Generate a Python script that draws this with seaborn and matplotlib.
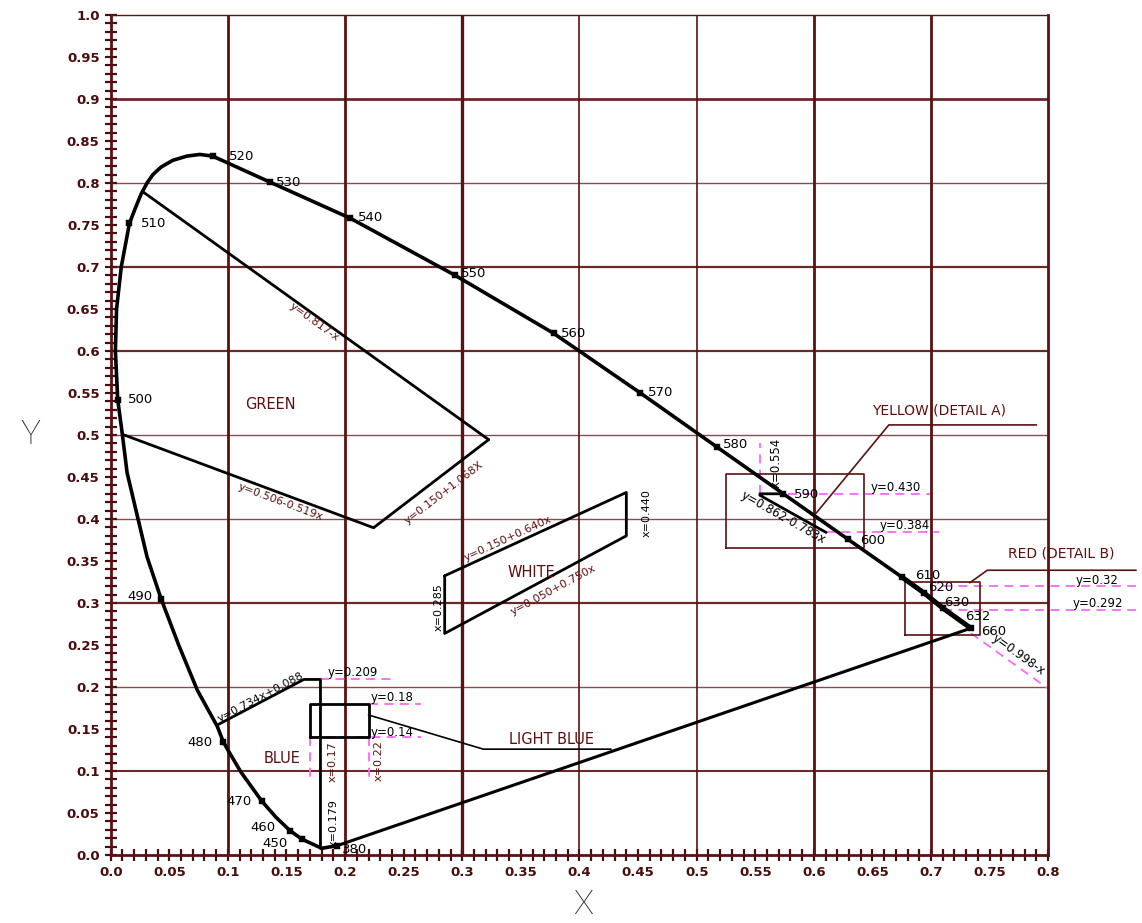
import numpy as np
import matplotlib
matplotlib.use("Agg")
import matplotlib.pyplot as plt
import seaborn as sns
from matplotlib.ticker import FixedLocator, MultipleLocator

# ---------------- data ----------------
# spectral locus, traced from 380 nm round the horseshoe to 660 nm
locus_x = [0.193, 0.180, 0.163, 0.153, 0.141, 0.129, 0.111, 0.100, 0.096, 0.091,
           0.074, 0.058, 0.043, 0.031, 0.023, 0.014, 0.010, 0.006, 0.004, 0.005,
           0.009, 0.016, 0.021, 0.026, 0.031, 0.036, 0.043, 0.053, 0.065, 0.076,
           0.087, 0.136, 0.2045, 0.294, 0.378, 0.452, 0.517, 0.574, 0.629, 0.675,
           0.694, 0.710, 0.734]
locus_y = [0.011, 0.008, 0.019, 0.029, 0.045, 0.064, 0.099, 0.125, 0.135, 0.153,
           0.196, 0.250, 0.305, 0.355, 0.402, 0.455, 0.500, 0.542, 0.600, 0.650,
           0.700, 0.752, 0.770, 0.787, 0.800, 0.810, 0.819, 0.827, 0.832, 0.834,
           0.832, 0.801, 0.758, 0.690, 0.621, 0.550, 0.486, 0.430, 0.376, 0.331,
           0.312, 0.294, 0.270]

# marked wavelengths (nm) on the locus
wl_names = ["380", "450", "460", "470", "480", "490", "500", "510", "520", "530",
            "540", "550", "560", "570", "580", "590", "600", "610", "620", "630", "660"]
wl_x = [0.193, 0.163, 0.153, 0.129, 0.096, 0.043, 0.006, 0.016, 0.087, 0.136,
        0.2045, 0.294, 0.378, 0.452, 0.517, 0.574, 0.629, 0.675, 0.694, 0.710, 0.734]
wl_y = [0.011, 0.019, 0.029, 0.064, 0.135, 0.305, 0.542, 0.752, 0.832, 0.801,
        0.758, 0.690, 0.621, 0.550, 0.486, 0.430, 0.376, 0.331, 0.312, 0.294, 0.270]

# boundary equations of the colour regions
green_upper = (0.817, -1.0)       # y = 0.817 - x
green_right = (0.150, 1.068)      # y = 0.150 + 1.068x
green_lower = (0.506, -0.519)     # y = 0.506 - 0.519x
green_locus_x = [0.028, 0.011]    # where the upper/lower boundaries meet the locus

white_top = (0.150, 0.640)        # y = 0.150 + 0.640x
white_bottom = (0.050, 0.750)     # y = 0.050 + 0.750x
white_x = [0.285, 0.440]

blue_edge = (0.088, 0.734)        # y = 0.734x + 0.088
blue_locus_x = 0.091
blue_top = 0.209
blue_right = 0.179
blue_bottom_y = 0.008

light_blue_x = [0.17, 0.22]
light_blue_y = [0.14, 0.18]

yellow_edge = (0.862, -0.783)     # y = 0.862 - 0.783x
yellow_x = 0.554
yellow_y = [0.430, 0.384]
yellow_locus_x = 0.574

red_y = [0.32, 0.292]
red_edge = (0.998, -1.0)          # y = 0.998 - x

# ---------------- style ----------------
sns.set_theme(style="white")
plt.rcParams["font.family"] = ["DejaVu Sans"]

BROWN = "#5a1212"
TICK = "#4a0c0c"
RED_TXT = "#5c0f0f"
MAGENTA = "#ff66ff"

fig = plt.figure(figsize=(11.42, 9.23), dpi=100)
ax = fig.add_axes([110.7 / 1142, 68 / 923, 937.5 / 1142, 840 / 923])
ax.set_xlim(0, 0.8)
ax.set_ylim(0, 1.0)


def line(xs, ys, color="black", lw=2.0, ls="-", z=3, clip=True):
    sns.lineplot(x=list(xs), y=list(ys), sort=False, estimator=None, ax=ax,
                 color=color, linewidth=lw, linestyle=ls, zorder=z, clip_on=clip)


def lin(eq, x):
    return eq[0] + eq[1] * x


# grid
vgrid = {0.1: 2.0, 0.2: 2.0, 0.3: 2.4, 0.4: 1.2, 0.5: 1.2, 0.6: 2.0, 0.7: 2.0}
hgrid = {0.1: 1.5, 0.2: 1.0, 0.3: 1.6, 0.4: 1.0, 0.5: 1.0, 0.6: 1.6, 0.7: 1.6,
         0.8: 1.0, 0.9: 2.0}
for gx, w in vgrid.items():
    ax.axvline(gx, color=BROWN, lw=w, zorder=1)
for gy, w in hgrid.items():
    ax.axhline(gy, color=BROWN, lw=w, zorder=1, alpha=0.9 if w > 1.2 else 0.75)

for side, w in (("left", 2.0), ("bottom", 2.0), ("right", 2.0), ("top", 1.0)):
    ax.spines[side].set_visible(True)
    ax.spines[side].set_color(BROWN)
    ax.spines[side].set_linewidth(w)

# ticks
x_ticks = np.round(np.arange(0, 0.801, 0.05), 2)
y_ticks = np.round(np.arange(0, 1.001, 0.05), 2)
x_tick_labels = ["0.0", "0.05", "0.1", "0.15", "0.2", "0.25", "0.3", "0.35", "0.4",
                 "0.45", "0.5", "0.55", "0.6", "0.65", "0.7", "0.75", "0.8"]
y_tick_labels = ["0.0", "0.05", "0.1", "0.15", "0.2", "0.25", "0.3", "0.35", "0.4",
                 "0.45", "0.5", "0.55", "0.6", "0.65", "0.7", "0.75", "0.8", "0.85",
                 "0.9", "0.95", "1.0"]
ax.xaxis.set_major_locator(FixedLocator(x_ticks))
ax.yaxis.set_major_locator(FixedLocator(y_ticks))
ax.set_xticklabels(x_tick_labels)
ax.set_yticklabels(y_tick_labels)
ax.xaxis.set_minor_locator(MultipleLocator(0.01))
ax.yaxis.set_minor_locator(MultipleLocator(0.01))
ax.tick_params(which="both", direction="inout", length=8, width=1.6, color=TICK,
               bottom=True, left=True, top=False, right=False)
ax.tick_params(which="major", labelsize=9.5, labelcolor=TICK, pad=4)
for t in ax.get_xticklabels() + ax.get_yticklabels():
    t.set_fontweight("bold")

ax.set_xlabel("X", fontsize=24, family=["Roboto", "DejaVu Sans"], fontweight="light",
              color="#222222", va="center")
ax.xaxis.set_label_coords(0.504, -0.06)
ax.set_ylabel("Y", fontsize=24, family=["Roboto", "DejaVu Sans"], fontweight="light",
              color="#222222", rotation=0, va="center", ha="center")
ax.yaxis.set_label_coords(-0.086, 0.5)

# ---------------- spectral locus ----------------
line(locus_x, locus_y, lw=2.6, z=5)
line([locus_x[0], locus_x[-1]], [locus_y[0], locus_y[-1]], lw=2.2, z=5)
line(locus_x[-4:], locus_y[-4:], lw=3.6, z=5)
sns.scatterplot(x=wl_x, y=wl_y, ax=ax, color="black", s=14, marker="s",
                edgecolor="black", zorder=6)

wl_offsets = {"380": (5, -4, "left"), "450": (-14, -4, "right"), "460": (-14, 3, "right"),
              "470": (-10, 0, "right"), "480": (-11, -1, "right"), "490": (-9, 2, "right"),
              "500": (10, 0, "left"), "510": (11, 0, "left"), "520": (16, 0, "left"),
              "530": (6, 0, "left"), "540": (8, 1, "left"), "550": (6, 2, "left"),
              "560": (7, 0, "left"), "570": (8, 0, "left"), "580": (6, 2, "left"),
              "590": (11, -1, "left"), "600": (12, -1, "left"), "610": (13, 1, "left"),
              "620": (4, 5, "left"), "630": (1, 6, "left"), "660": (10, -3, "left")}
for name, px, py in zip(wl_names, wl_x, wl_y):
    dx, dy, ha = wl_offsets[name]
    ax.annotate(name, (px, py), xytext=(dx, dy), textcoords="offset pixels",
                ha=ha, va="center", fontsize=9.5, color="black", zorder=7)
ax.annotate("632", (wl_x[-1], wl_y[-1]), xytext=(-6, 12), textcoords="offset pixels",
            ha="left", va="center", fontsize=9.5, color="black", zorder=7)


def eq_text(s, x, y, slope=None, rot=None, size=8, color=RED_TXT):
    if slope is not None:
        rot = np.degrees(np.arctan(slope))
        ax.text(x, y, s, rotation=rot, transform_rotates_text=True,
                rotation_mode="anchor", ha="center", va="center",
                fontsize=size, color=color, zorder=8)
    else:
        ax.text(x, y, s, rotation=rot or 0, ha="center", va="center",
                fontsize=size, color=color, zorder=8)


# ---------------- green ----------------
gx_apex = (green_upper[0] - green_right[0]) / (green_right[1] - green_upper[1])
gx_low = (green_lower[0] - green_right[0]) / (green_right[1] - green_lower[1])
line([green_locus_x[0], gx_apex], [lin(green_upper, green_locus_x[0]), lin(green_upper, gx_apex)])
line([gx_apex, gx_low], [lin(green_right, gx_apex), lin(green_right, gx_low)])
line([gx_low, green_locus_x[1]], [lin(green_lower, gx_low), lin(green_lower, green_locus_x[1])])
eq_text("y=0.817-x", 0.174, 0.634, slope=green_upper[1])
eq_text("y=0.506-0.519x", 0.145, 0.420, slope=green_lower[1])
eq_text("y=0.150+1.068X", 0.284, 0.431, slope=green_right[1])
ax.text(0.136, 0.536, "GREEN", ha="center", va="center", fontsize=10.5, color=RED_TXT)

# ---------------- white ----------------
wx0, wx1 = white_x
line([wx0, wx1, wx1, wx0, wx0],
     [lin(white_top, wx0), lin(white_top, wx1), lin(white_bottom, wx1),
      lin(white_bottom, wx0), lin(white_top, wx0)])
eq_text("y=0.150+0.640x", 0.339, 0.377, slope=white_top[1])
eq_text("y=0.050+0.750x", 0.378, 0.3155, slope=white_bottom[1])
eq_text("x=0.285", 0.2795, 0.295, rot=90, color="black")
eq_text("x=0.440", 0.457, 0.407, rot=90, color="black")
ax.text(0.359, 0.336, "WHITE", ha="center", va="center", fontsize=10.5, color=RED_TXT)

# ---------------- blue ----------------
bx_top = (blue_top - blue_edge[0]) / blue_edge[1]
line([blue_locus_x, bx_top, blue_right, blue_right],
     [lin(blue_edge, blue_locus_x), blue_top, blue_top, blue_bottom_y])
eq_text("y=0.734x+0.088", 0.128, 0.188, slope=blue_edge[1], color="black")
eq_text("x=0.179", 0.190, 0.038, rot=90, color="black", size=8)
ax.text(0.146, 0.115, "BLUE", ha="center", va="center", fontsize=10.5, color=RED_TXT)

# ---------------- light blue ----------------
lbx0, lbx1 = light_blue_x
lby0, lby1 = light_blue_y
dash = (0, (5, 3.5))
line([blue_right, 0.241], [blue_top, blue_top], color=MAGENTA, lw=1.3, ls=dash, z=2)
line([lbx1, 0.265], [lby1, lby1], color=MAGENTA, lw=1.3, ls=dash, z=2)
line([lbx0, 0.265], [lby0, lby0], color=MAGENTA, lw=1.3, ls=dash, z=2)
line([lbx0, lbx0], [lby0, 0.086], color=MAGENTA, lw=1.3, ls=dash, z=2)
line([lbx1, lbx1], [lby0, 0.086], color=MAGENTA, lw=1.3, ls=dash, z=2)
line([lbx0, lbx1, lbx1, lbx0, lbx0], [lby0, lby0, lby1, lby1, lby0], lw=2.0)
eq_text("y=0.209", 0.207, 0.2167, color="black", size=8.5)
eq_text("y=0.18", 0.240, 0.187, color="black", size=8.5)
eq_text("y=0.14", 0.240, 0.146, color="black", size=8.5)
eq_text("x=0.17", 0.189, 0.111, rot=90, color=RED_TXT, size=8)
eq_text("x=0.22", 0.229, 0.113, rot=90, color=RED_TXT, size=8)
line([lbx1, 0.318, 0.427], [0.1667, 0.126, 0.126], lw=1.2, z=3)
ax.text(0.376, 0.138, "LIGHT BLUE", ha="center", va="center", fontsize=10.5, color=RED_TXT)

# ---------------- yellow (detail A) ----------------
yx_end = (yellow_edge[0] - yellow_y[1]) / (-yellow_edge[1])
line([yellow_x, yellow_x], [yellow_y[0], 0.49], color=MAGENTA, lw=1.3, ls=dash, z=2)
line([0.578, 0.699], [yellow_y[0], yellow_y[0]], color=MAGENTA, lw=1.3, ls=dash, z=2)
line([yx_end, 0.707], [yellow_y[1], yellow_y[1]], color=MAGENTA, lw=1.3, ls=dash, z=2)
line([yellow_locus_x, yellow_x, yellow_x, yx_end],
     [yellow_y[0], yellow_y[0], lin(yellow_edge, yellow_x), lin(yellow_edge, yx_end)], lw=2.0)
eq_text("y=0.862-0.783x", 0.574, 0.402, slope=yellow_edge[1], color="black", size=8.5)
eq_text("x=0.554", 0.568, 0.4667, rot=90, color="black", size=8.5)
eq_text("y=0.430", 0.67, 0.438, color="black", size=8.5)
eq_text("y=0.384", 0.678, 0.392, color="black", size=8.5)
line([0.525, 0.643, 0.643, 0.525, 0.525], [0.3655, 0.3655, 0.4536, 0.4536, 0.3655],
     color=BROWN, lw=1.2, z=2)
line([0.602, 0.664, 0.790], [0.407, 0.512, 0.512], color=BROWN, lw=1.2, z=2)
ax.text(0.707, 0.5286, "YELLOW (DETAIL A)", ha="center", va="center",
        fontsize=10, color=RED_TXT)

# ---------------- red (detail B) ----------------
for ry in red_y:
    line([0.710, 0.875], [ry, ry], color=MAGENTA, lw=1.3, ls=dash, z=2, clip=False)
line([0.734, 0.8], [lin(red_edge, 0.734), lin(red_edge, 0.8)], color=MAGENTA,
     lw=1.3, ls=dash, z=2)
line([0.678, 0.742, 0.742, 0.678, 0.678], [0.262, 0.262, 0.325, 0.325, 0.262],
     color=BROWN, lw=1.2, z=2)
line([0.733, 0.748, 0.875], [0.324, 0.339, 0.339], color=BROWN, lw=1.2, z=2, clip=False)
ax.text(0.8115, 0.3595, "RED (DETAIL B)", ha="center", va="center",
        fontsize=10, color=RED_TXT, clip_on=False)
ax.text(0.842, 0.327, "y=0.32", ha="center", va="center", fontsize=8.5, color="black")
ax.text(0.842, 0.300, "y=0.292", ha="center", va="center", fontsize=8.5, color="black")
eq_text("y=0.998-x", 0.775, 0.238, slope=red_edge[1], color="black", size=8.5)

fig.savefig("out.png", dpi=100)
